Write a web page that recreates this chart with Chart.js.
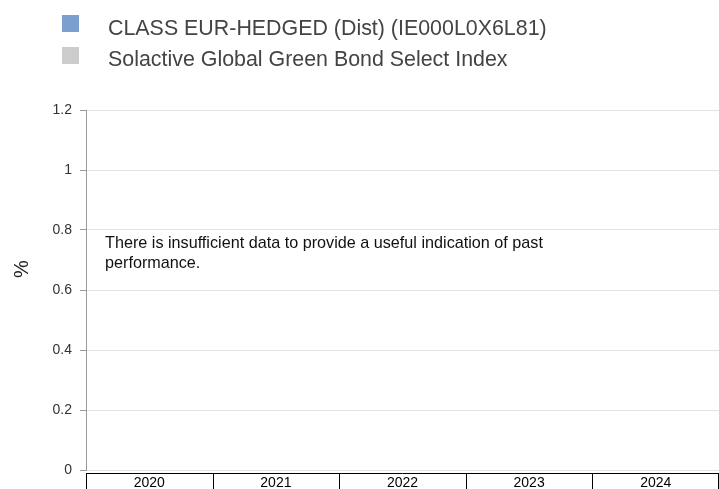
<!DOCTYPE html>
<html>
<head>
<meta charset="utf-8">
<script src="https://cdn.jsdelivr.net/npm/chart.js@4.4.1/dist/chart.umd.min.js"></script>
<style>
  html, body { margin: 0; padding: 0; background: #fff; }
  #wrap { width: 719px; height: 489px; }
</style>
</head>
<body>
<div id="wrap"><canvas id="perf"></canvas></div>
<script>
'use strict'

var years = ['2020', '2021', '2022', '2023', '2024'];
// no returns are published yet, every year is empty
var fundReturns = [null, null, null, null, null];
var indexReturns = [null, null, null, null, null];
var yTicks = [0, 0.2, 0.4, 0.6, 0.8, 1, 1.2];

var fundLabel = 'CLASS EUR-HEDGED (Dist) (IE000L0X6L81)';
var indexLabel = 'Solactive Global Green Bond Select Index';
var noDataText = ['There is insufficient data to provide a useful indication of past', 'performance.'];

var fontName = '"Liberation Sans", Arial, Helvetica, sans-serif';
var narrowFont = '"Liberation Sans Narrow", "Arial Narrow", "Liberation Sans", sans-serif';

// legend, message, unit label and the boxed year row
var extras = {
  id: 'extras',
  afterDraw: function(chart) {
    var c = chart.ctx;
    var x = chart.scales.x;
    var area = chart.chartArea;
    c.save();

    chart.data.datasets.forEach(function(ds, i) {
      var top = i == 0 ? 15 : 47;
      c.fillStyle = ds.backgroundColor;
      c.fillRect(62, top, 17, 17);
      c.fillStyle = '#444';
      c.font = '21.4px ' + fontName;
      c.textBaseline = 'alphabetic';
      c.textAlign = 'left';
      c.fillText(ds.label, 108, i == 0 ? 35 : 66);
    });

    c.fillStyle = '#111';
    c.font = '16.2px ' + fontName;
    c.fillText(noDataText[0], 105, 248);
    c.fillText(noDataText[1], 105, 268);

    c.save();
    c.translate(22, 269);
    c.rotate(-Math.PI / 2);
    c.textAlign = 'center';
    c.textBaseline = 'middle';
    c.font = '20px ' + fontName;
    c.fillStyle = '#222';
    c.fillText('%', 0, 0);
    c.restore();

    var half = (x.getPixelForValue(1) - x.getPixelForValue(0)) / 2;
    var lineY = area.bottom + 3.5;
    c.strokeStyle = '#000';
    c.lineWidth = 1;
    c.beginPath();
    c.moveTo(area.left, lineY);
    c.lineTo(area.right, lineY);
    for (var k = 0; k <= years.length; k++) {
      var px = Math.round(x.getPixelForValue(k) - half) + 0.5;
      if (k == years.length) px = Math.min(px, area.right - 0.5);
      c.moveTo(px, lineY);
      c.lineTo(px, chart.height);
    }
    c.stroke();
    c.restore();
  }
};

var ctx = document.getElementById('perf');
var chart = new Chart(ctx, {
  type: 'bar',
  data: {
    labels: years,
    datasets: [{
      label: fundLabel,
      data: fundReturns,
      backgroundColor: '#7b9fcf'
    }, {
      label: indexLabel,
      data: indexReturns,
      backgroundColor: '#cccccc'
    }]
  },
  options: {
    responsive: true,
    maintainAspectRatio: false,
    animation: false,
    layout: { padding: { top: 110, right: 0, left: 0, bottom: 0 } },
    plugins: {
      legend: { display: false },
      tooltip: { enabled: false }
    },
    scales: {
      x: {
        offset: true,
        grid: { display: false, drawTicks: false },
        border: { display: false },
        ticks: {
          color: '#000',
          padding: 5,
          font: { family: narrowFont, size: 14 }
        },
        afterFit: function(scale) { scale.height = 19; }
      },
      y: {
        min: yTicks[0],
        max: yTicks[yTicks.length - 1],
        afterBuildTicks: function(scale) {
          scale.ticks = yTicks.map(function(v) { return { value: v }; });
        },
        grid: {
          color: '#e4e4e4',
          tickColor: '#999',
          tickLength: 6
        },
        border: { color: '#999' },
        ticks: {
          color: '#333',
          padding: 8,
          font: { family: fontName, size: 14 },
          callback: function(v) { return String(Math.round(v * 10) / 10); }
        },
        afterFit: function(scale) { scale.width = 86; }
      }
    }
  },
  plugins: [extras]
});
</script>
</body>
</html>
